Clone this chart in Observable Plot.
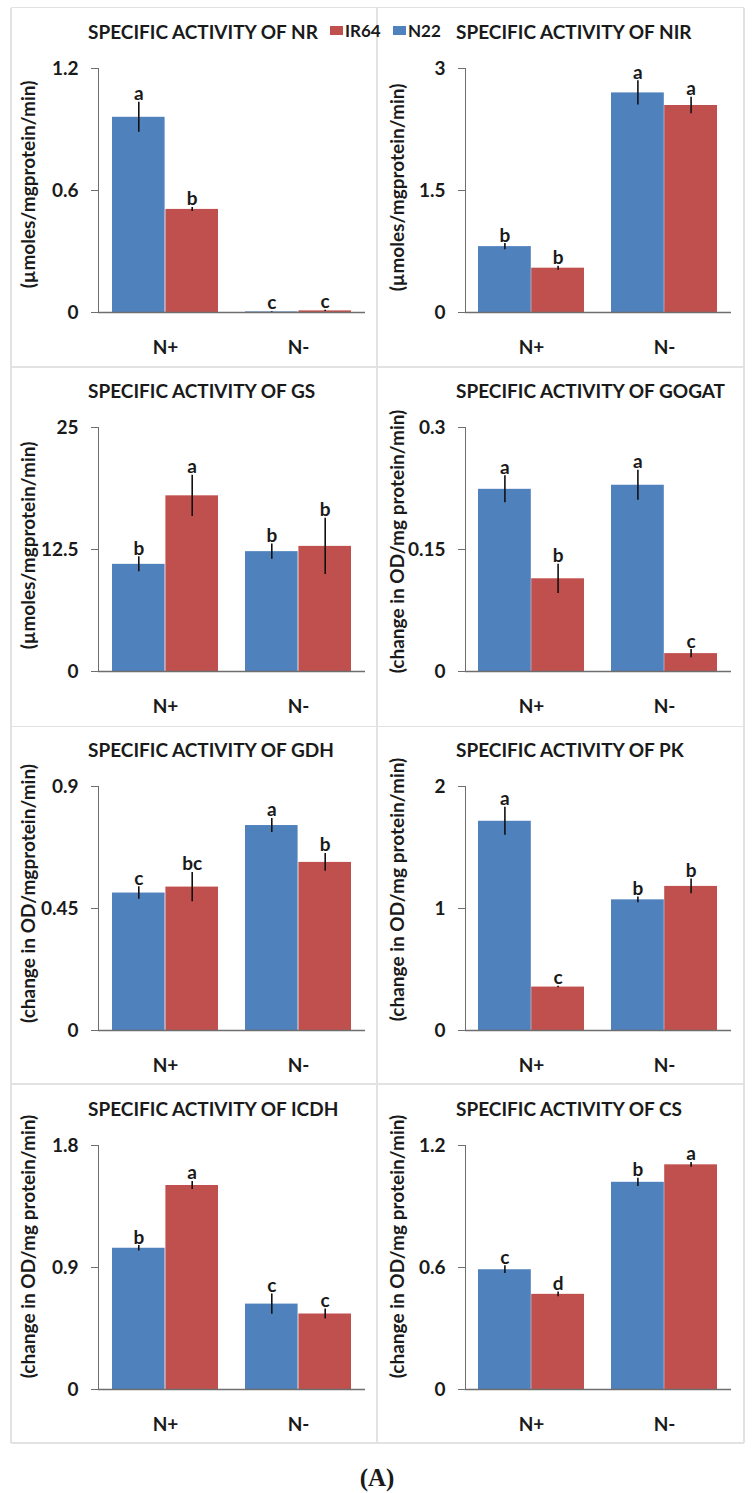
<!DOCTYPE html>
<html><head><meta charset="utf-8">
<script src="https://cdn.jsdelivr.net/npm/d3@7"></script>
<script src="https://cdn.jsdelivr.net/npm/@observablehq/plot@0.6"></script>
<style>
body{margin:0;background:#fff;}
#wrap{position:relative;width:754px;height:1493px;font-family:Lato,"Open Sans",sans-serif;font-weight:bold;color:#1a1a1a;overflow:hidden;}
.panel{position:absolute;}
.title{position:absolute;font-size:19px;white-space:nowrap;line-height:1;transform:translateY(-50%);}
.hl,.vl{position:absolute;background:#e2e2e2;}
.sw{position:absolute;width:13px;height:9px;}
.lg{position:absolute;font-size:17px;line-height:1;transform:translateY(-50%);white-space:nowrap;}
#cap{position:absolute;left:0;width:754px;text-align:center;font-family:"Liberation Serif","DejaVu Serif",serif;font-weight:bold;font-size:25px;line-height:1;transform:translateY(-50%);}
g[aria-label="y-axis tick label"], g[aria-label="x-axis tick label"]{fill:#1a1a1a;}
</style></head><body><div id="wrap"></div>
<script>
const enzymes = ["NR","NIR","GS","GOGAT","GDH","PK","ICDH","CS"];
const treatments = ["N+","N-"];
const cultivars = ["N22","IR64"];
const cultivarColors = ["#4f81bd","#c0504d"];

// means per enzyme
const n22NPlus  = [0.96, 0.81, 10.98, 0.224, 0.507, 1.715, 1.042, 0.589];
const ir64NPlus = [0.507, 0.545, 18.0, 0.114, 0.529, 0.356, 1.505, 0.468];
const n22NMinus = [0.003, 2.70, 12.28, 0.229, 0.756, 1.071, 0.630, 1.019];
const ir64NMinus= [0.008, 2.545, 12.82, 0.022, 0.620, 1.181, 0.557, 1.105];
// error bar half-lengths
const n22NPlusErr  = [0.074, 0.037, 0.77, 0.0166, 0.023, 0.115, 0.02, 0.019];
const ir64NPlusErr = [0.01, 0.025, 2.11, 0.018, 0.054, 0.006, 0.03, 0.012];
const n22NMinusErr = [0.002, 0.15, 0.78, 0.0185, 0.026, 0.023, 0.074, 0.0205];
const ir64NMinusErr= [0.003, 0.10, 2.88, 0.005, 0.033, 0.06, 0.037, 0.0115];
// significance letters
const n22NPlusLet  = ["a","b","b","a","c","a","b","c"];
const ir64NPlusLet = ["b","b","a","b","bc","c","a","d"];
const n22NMinusLet = ["c","a","b","a","a","b","c","b"];
const ir64NMinusLet= ["c","a","b","c","b","b","c","a"];

const yMax = [1.2, 3, 25, 0.3, 0.9, 2, 1.8, 1.2];
const yTickValues = [[0,0.6,1.2],[0,1.5,3],[0,12.5,25],[0,0.15,0.3],[0,0.45,0.9],[0,1,2],[0,0.9,1.8],[0,0.6,1.2]];
const yTickLabels = [["0","0.6","1.2"],["0","1.5","3"],["0","12.5","25"],["0","0.15","0.3"],["0","0.45","0.9"],["0","1","2"],["0","0.9","1.8"],["0","0.6","1.2"]];
const yLabels = ["(µmoles/mgprotein/min)","(µmoles/mgprotein/min)","(µmoles/mgprotein/min)",
  "(change in OD/mg protein/min)","(change in OD/mgprotein/min)","(change in OD/mg protein/min)",
  "(change in OD/mg protein/min)","(change in OD/mg protein/min)"];
const titles = enzymes.map(e => "SPECIFIC ACTIVITY OF " + e);

// layout
const rowTops = [8, 367, 726, 1084.5];
const colLefts = [11, 377];
const colWidths = [366, 367];
const marginLefts = [87, 88];
const plotWidths = [267, 266];
const panelH = 359, mTop = 60, plotH = 244;
const yLabelCenter = [176, 179, 178, 174, 167, 163, 161, 161];
const yLabelX = [17.5, 20];
const fs = 19;

const wrap = document.getElementById("wrap");
function add(cls, css, text){const d=document.createElement("div");d.className=cls;Object.assign(d.style,css);if(text!=null)d.textContent=text;wrap.appendChild(d);return d;}

// borders
[7.5, 367, 726.5, 1084, 1443].forEach(y => add("hl",{left:"11px",top:(y-0.75)+"px",width:"733px",height:"1.5px"}));
[11, 377, 744].forEach(x => add("vl",{left:(x-0.75)+"px",top:"7.5px",width:"1.5px",height:"1435.5px"}));

enzymes.forEach((enz, i) => {
  const col = i % 2, row = Math.floor(i / 2);
  const W = colWidths[col], mL = marginLefts[col], pw = plotWidths[col];
  const mR = W - mL - pw;
  const bw = 0.8 * pw / 2; // bandwidth with paddingInner .2, paddingOuter .1
  const data = [
    {t: "N+", c: "N22", v: n22NPlus[i], e: n22NPlusErr[i], l: n22NPlusLet[i]},
    {t: "N+", c: "IR64", v: ir64NPlus[i], e: ir64NPlusErr[i], l: ir64NPlusLet[i]},
    {t: "N-", c: "N22", v: n22NMinus[i], e: n22NMinusErr[i], l: n22NMinusLet[i]},
    {t: "N-", c: "IR64", v: ir64NMinus[i], e: ir64NMinusErr[i], l: ir64NMinusLet[i]}
  ];
  const marks = [];
  cultivars.forEach((cv, k) => {
    const d = data.filter(r => r.c === cv);
    const off = k === 0 ? -bw / 4 : bw / 4;
    marks.push(Plot.barY(d, {x: "t", y: "v", fill: cultivarColors[k],
      insetLeft: k === 0 ? 0 : bw / 2, insetRight: k === 0 ? bw / 2 : 0}));
    marks.push(Plot.ruleX(d, {x: "t", y1: r => r.v - r.e, y2: r => r.v + r.e, dx: off, stroke: "#111", strokeWidth: 1.6}));
    marks.push(Plot.text(d, {x: "t", y: r => r.v + r.e, text: "l", dx: off, dy: -2, lineAnchor: "bottom",
      fontSize: fs, fontWeight: "bold", fill: "#1a1a1a"}));
  });
  marks.push(Plot.ruleY([0], {stroke: "#6e6e6e", strokeWidth: 1.3}));
  marks.push(Plot.text([yLabels[i]], {frameAnchor: "left", text: d => d, rotate: -90,
    dx: yLabelX[col] - mL, dy: yLabelCenter[i] - (mTop + plotH / 2), textAnchor: "middle",
    fontSize: fs, fontWeight: "bold", fill: "#1a1a1a"}));
  const ticks = yTickValues[i], labs = yTickLabels[i];
  const svg = Plot.plot({
    width: W, height: panelH,
    marginTop: mTop, marginBottom: panelH - mTop - plotH, marginLeft: mL, marginRight: mR,
    x: {domain: treatments, paddingInner: 0.2, paddingOuter: 0.1, label: null, tickSize: 0, tickPadding: 28},
    y: {domain: [0, yMax[i]], ticks: ticks, tickFormat: d => labs[ticks.indexOf(d)], tickSize: 7, tickPadding: 13, label: null, line: true},
    style: {fontFamily: "Lato, 'Open Sans', sans-serif", fontSize: fs + "px", fontWeight: "bold", color: "#6e6e6e", background: "transparent", overflow: "visible"},
    marks
  });
  const p = document.createElement("div");
  p.className = "panel";
  p.style.left = colLefts[col] + "px";
  p.style.top = rowTops[row] + "px";
  p.appendChild(svg);
  wrap.appendChild(p);
  // title
  const titleX = col === 0 ? 88 : 456;
  add("title", {left: titleX + "px", top: (rowTops[row] + 23) + "px"}, titles[i]);
});

// legend
add("sw", {left: "330px", top: "25.5px", background: cultivarColors[1]});
add("lg", {left: "345px", top: "30px"}, cultivars[1]);
add("sw", {left: "393px", top: "25.5px", background: cultivarColors[0]});
add("lg", {left: "408px", top: "30px"}, cultivars[0]);
// caption
const cap = add("", {}, "(A)");
cap.id = "cap";
cap.style.top = "1477px";
</script></body></html>
